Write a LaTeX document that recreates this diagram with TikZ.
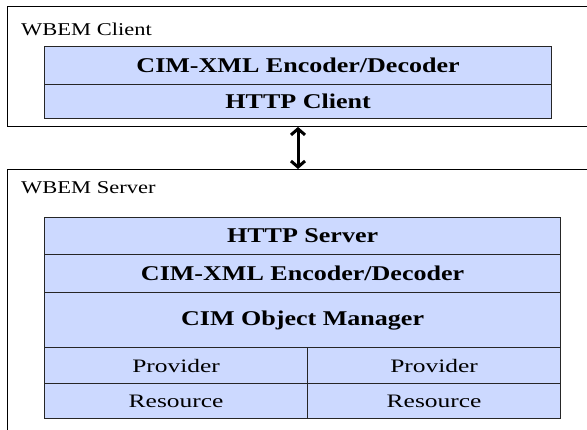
\documentclass[tikz,border=0pt]{standalone}
\usepackage{graphicx}
\usepackage{fontspec}
\setmainfont{Liberation Serif}
\usetikzlibrary{arrows.meta}
\definecolor{layerfill}{RGB}{204,217,255}
\newcommand{\layertext}[1]{\scalebox{1.24}[1]{\fontsize{21}{25}\selectfont\bfseries #1}}
\newcommand{\plaintext}[1]{\scalebox{1.25}[1]{\fontsize{18}{22}\selectfont #1}}
\newcommand{\celltext}[1]{\scalebox{1.34}[1]{\fontsize{19}{23}\selectfont #1}}
\tikzset{
  outerbox/.style={draw=black, line width=0.9pt, fill=white, anchor=north west, inner sep=0pt},
  layer/.style={draw=black!85, line width=1.2pt, fill=layerfill, anchor=north west, inner sep=0pt},
  title/.style={anchor=west, inner sep=0pt},
  link/.style={line width=3pt, {Straight Barb[length=6pt,width=14pt]}-{Straight Barb[length=6pt,width=14pt]}}
}
\begin{document}
\begin{tikzpicture}[x=1pt,y=-1pt]
\useasboundingbox (0,0) rectangle (587,429);
\clip (0,0) rectangle (587,429);

% WBEM client
\node[outerbox, minimum width=590pt, minimum height=120pt] (client) at (7,6) {};
\node[title] (clientlbl) at (21,29) {\plaintext{WBEM Client}};
\node[layer, minimum width=507pt, minimum height=38pt] (cenc) at (44,46) {\layertext{CIM-XML Encoder/Decoder}};
\node[layer, minimum width=507pt, minimum height=34pt] (chttp) at (44,84) {\layertext{HTTP Client}};

% WBEM server
\node[outerbox, minimum width=590pt, minimum height=270pt] (server) at (7,169) {};
\node[title] (serverlbl) at (21,188) {\plaintext{WBEM Server}};
\node[layer, minimum width=516pt, minimum height=37pt] (shttp) at (44,217) {\layertext{HTTP Server}};
\node[layer, minimum width=516pt, minimum height=38pt] (senc) at (44,254) {\layertext{CIM-XML Encoder/Decoder}};
\node[layer, minimum width=516pt, minimum height=55pt] (com) at (44,292) {\layertext{CIM Object Manager}};
\node[layer, minimum width=263pt, minimum height=36pt] (prov1) at (44,347) {\celltext{Provider}};
\node[layer, minimum width=253pt, minimum height=36pt] (prov2) at (307,347) {\celltext{Provider}};
\node[layer, minimum width=263pt, minimum height=35pt] (res1) at (44,383) {\celltext{Resource}};
\node[layer, minimum width=253pt, minimum height=35pt] (res2) at (307,383) {\celltext{Resource}};

% client <-> server link
\draw[link] (client.south -| 298,0) -- (server.north -| 298,0);
\end{tikzpicture}
\end{document}
